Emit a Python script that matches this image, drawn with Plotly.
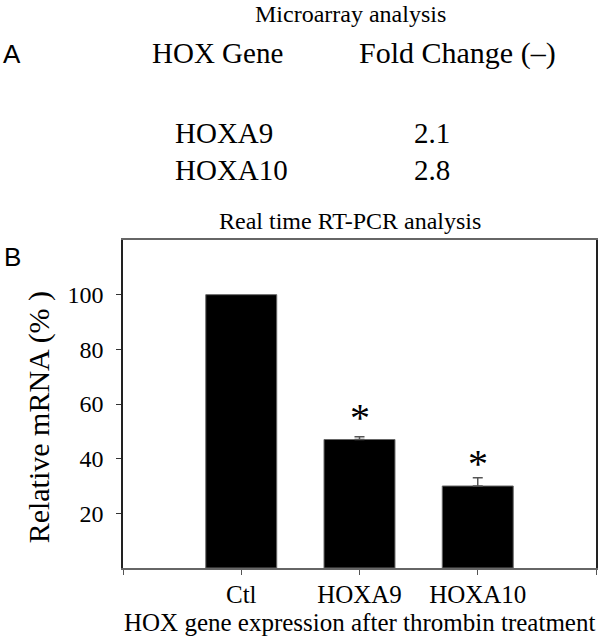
import plotly.graph_objects as go

# Panel A: microarray table
array_genes = ["HOXA9", "HOXA10"]
fold_change = [2.1, 2.8]

# Panel B: real time RT-PCR
categories = ["Ctl", "HOXA9", "HOXA10"]
relative_mrna = [100, 47, 30]
mrna_err = [0, 1, 3]
significance = ["", "*", "*"]
y_ticks = [20, 40, 60, 80, 100]

W, H = 605, 640
ML, MR, MT, MB = 123, 7, 240, 72
SERIF = "Liberation Serif"
SANS = "Liberation Sans"


def px_x(px):
    return (px - ML) / (W - ML - MR)


def px_y(py):
    return (H - MB - py) / (H - MT - MB)


x_pos = list(range(len(categories)))

fig = go.Figure()

fig.add_trace(go.Bar(
    x=x_pos,
    y=relative_mrna,
    width=0.6,
    marker=dict(color="black", line=dict(color="#666666", width=1)),
    showlegend=False,
    hoverinfo="skip",
))

# one-sided error bars, only where there is an error
err_idx = [i for i, e in enumerate(mrna_err) if e > 0]
fig.add_trace(go.Scatter(
    x=[x_pos[i] for i in err_idx],
    y=[relative_mrna[i] for i in err_idx],
    mode="markers",
    marker=dict(size=1, color="rgba(0,0,0,0)"),
    error_y=dict(type="data", symmetric=False,
                 array=[mrna_err[i] for i in err_idx],
                 arrayminus=[0 for _ in err_idx],
                 color="#555555", thickness=1.5, width=5),
    showlegend=False,
    hoverinfo="skip",
))

# significance stars, just above each bar
for i, s in enumerate(significance):
    if not s:
        continue
    fig.add_annotation(
        x=x_pos[i], y=relative_mrna[i],
        text=s, showarrow=False,
        yanchor="bottom", yshift=-2,
        font=dict(family=SERIF, size=40, color="black"),
    )

tick_x = [-1] + x_pos + [len(categories)]
fig.update_xaxes(
    range=[-1, len(categories)],
    tickvals=tick_x,
    ticktext=[""] + categories + [""],
    ticks="outside", ticklen=5, tickcolor="#555555",
    ticklabelstandoff=-2,
    showline=True, linecolor="#666666", linewidth=1.5, mirror=True,
    showgrid=False, zeroline=False,
    tickfont=dict(family=SERIF, size=25, color="black"),
)
fig.update_yaxes(
    range=[0, 120],
    tickvals=y_ticks,
    ticks="outside", ticklen=5, tickcolor="#333333",
    ticklabelstandoff=8,
    showline=True, linecolor="#222222", linewidth=1.5, mirror=True,
    showgrid=False, zeroline=False,
    tickfont=dict(family=SERIF, size=24, color="black"),
)

notes = []
# panel A
notes.append(dict(text="A", x=px_x(12), y=px_y(54), font=dict(family=SANS, size=26)))
notes.append(dict(text="Microarray analysis", x=px_x(351), y=px_y(14), font=dict(family=SERIF, size=24)))
notes.append(dict(text="HOX Gene", x=px_x(218), y=px_y(53), font=dict(family=SERIF, size=29)))
notes.append(dict(text="Fold Change (\u2013)", x=px_x(459), y=px_y(53), font=dict(family=SERIF, size=30)))
for k, (g, fc) in enumerate(zip(array_genes, fold_change)):
    row_y = 133 + 37 * k
    notes.append(dict(text=g, x=px_x(173), y=px_y(row_y), xanchor="left",
                      font=dict(family=SERIF, size=29)))
    notes.append(dict(text=f"{fc:.1f}", x=px_x(433), y=px_y(row_y),
                      font=dict(family=SERIF, size=29)))
# panel B
notes.append(dict(text="B", x=px_x(12), y=px_y(257), font=dict(family=SANS, size=26)))
notes.append(dict(text="Real time RT-PCR analysis", x=px_x(351), y=px_y(221), font=dict(family=SERIF, size=24)))
notes.append(dict(text="HOX gene expression after thrombin treatment", x=px_x(361), y=px_y(622),
                  font=dict(family=SERIF, size=25)))
notes.append(dict(text="Relative mRNA (% )", x=px_x(39), y=px_y(417), textangle=-90,
                  font=dict(family=SERIF, size=30)))

for n in notes:
    n.setdefault("xanchor", "center")
    n["font"]["color"] = "black"
    fig.add_annotation(xref="paper", yref="paper", yanchor="middle",
                       showarrow=False, **n)

fig.update_layout(
    width=W, height=H,
    margin=dict(l=ML, r=MR, t=MT, b=MB),
    plot_bgcolor="white", paper_bgcolor="white",
    showlegend=False,
)

# drop the default 8px page margin so the figure fills the window
fig.write_html("out.html", config={"displayModeBar": False},
               post_script="document.body.style.margin = '0';")
